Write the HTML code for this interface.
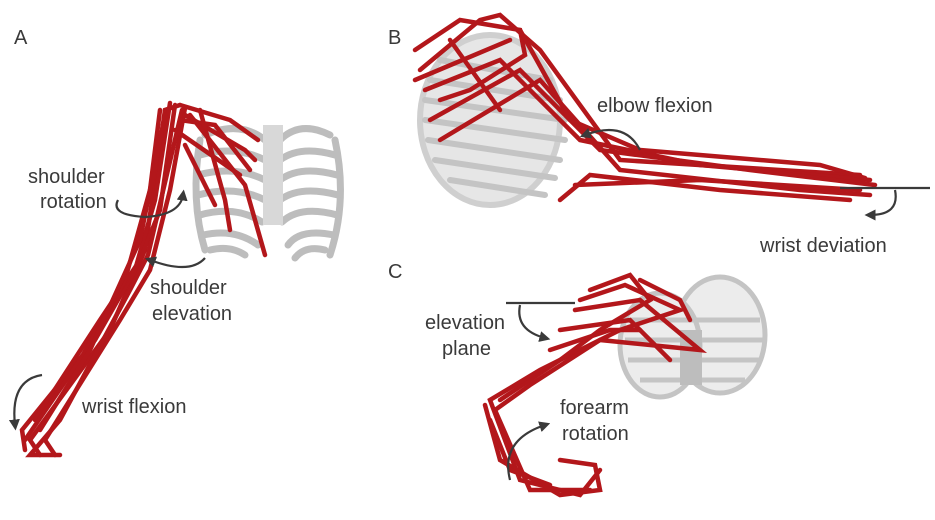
<!DOCTYPE html>
<html><head><meta charset="utf-8"><style>
html,body{margin:0;padding:0;background:#fff}
svg{display:block}
text{font-family:"Liberation Sans",sans-serif;fill:#3a3a3a;font-size:20px}
</style></head><body>
<svg width="935" height="520" viewBox="0 0 935 520" xmlns="http://www.w3.org/2000/svg">
<defs>
<marker id="ah" viewBox="0 0 10 10" refX="5" refY="5" markerWidth="5" markerHeight="5" orient="auto"><path d="M0,0 L10,5 L0,10 z" fill="#3a3a3a"/></marker>
</defs>
<text x="14" y="44">A</text>
<text x="388" y="44">B</text>
<text x="388" y="278">C</text>

<g stroke="#bdbdbd" stroke-width="7" fill="none" stroke-linecap="round">
<path d="M200,140 Q190,200 205,250"/>
<path d="M335,140 Q348,200 330,255"/>
<path d="M205,135 Q240,120 265,140"/><path d="M330,135 Q300,120 280,140"/>
<path d="M200,155 Q235,145 265,160"/><path d="M335,155 Q300,145 280,160"/>
<path d="M198,175 Q235,165 265,180"/><path d="M337,175 Q300,165 280,180"/>
<path d="M198,195 Q235,185 265,200"/><path d="M338,195 Q300,185 280,200"/>
<path d="M200,215 Q235,205 262,222"/><path d="M337,215 Q300,205 282,222"/>
<path d="M203,235 Q235,228 258,245"/><path d="M334,235 Q300,228 288,245"/>
<path d="M210,250 Q230,245 245,255"/><path d="M325,250 Q305,245 295,258"/>
</g>
<rect x="263" y="125" width="20" height="100" fill="#d8d8d8"/>
<g stroke="#b3171b" stroke-width="4.5" fill="none" stroke-linecap="round">
<path d="M180,105 L165,110 L145,250 L110,330 L30,440 L40,455"/>
<path d="M170,103 L155,200 L135,270 L95,340 L22,430 L25,450"/>
<path d="M185,108 L170,190 L150,270 L120,320 L45,440 L55,455"/>
<path d="M175,105 L160,210 L140,260 L100,320 L35,420"/>
<path d="M182,110 L148,255 L130,290 L60,420 L30,455 L60,455"/>
<path d="M160,110 L150,190 L125,280 L80,360 L25,440"/>
<path d="M165,115 L140,240 L90,350 L40,430"/>
<path d="M180,105 L230,120 L258,140"/>
<path d="M185,115 L245,150 L255,160"/>
<path d="M180,120 L215,125 L250,170"/>
<path d="M175,130 L240,175"/>
<path d="M185,145 L205,185 L215,205"/>
<path d="M200,110 L225,200 L230,230"/>
<path d="M190,115 L245,185 L265,255"/>
</g>
<g stroke="#3a3a3a" stroke-width="2.2" fill="none">
<path d="M118,200 Q110,215 145,217 Q180,215 183,195" marker-end="url(#ah)"/>
<path d="M205,258 Q190,275 150,260" marker-end="url(#ah)"/>
<path d="M42,375 Q10,380 15,425" marker-end="url(#ah)"/>
</g>
<text x="28" y="183">shoulder</text>
<text x="40" y="208">rotation</text>
<text x="150" y="294">shoulder</text>
<text x="152" y="320">elevation</text>
<text x="82" y="413">wrist flexion</text>

<g stroke="#c4c4c4" stroke-width="6" fill="none" stroke-linecap="round">
<ellipse cx="490" cy="120" rx="70" ry="85" fill="#e6e6e6" stroke="#cfcfcf"/>
<path d="M430,80 L560,100"/><path d="M425,100 L565,120"/><path d="M425,120 L565,140"/>
<path d="M428,140 L560,160"/><path d="M435,160 L555,178"/><path d="M450,180 L545,195"/>
<path d="M440,60 L550,80"/>
</g>
<g stroke="#b3171b" stroke-width="4.5" fill="none" stroke-linecap="round">
<path d="M415,50 L460,20 L520,30 L525,55 L470,90 L440,100"/>
<path d="M420,70 L480,20 L500,15 L540,50 L620,160 L860,175"/>
<path d="M425,90 L500,60 L580,140 L700,165 L870,180"/>
<path d="M430,120 L520,70 L600,150 L750,170 L875,185"/>
<path d="M440,140 L540,80 L620,170 L800,190 L870,195"/>
<path d="M520,30 L570,120 L640,150 L820,165 L865,178"/>
<path d="M560,200 L590,175 L720,190 L850,200"/>
<path d="M575,185 L700,180 L860,190"/>
<path d="M415,80 L510,40"/><path d="M450,40 L500,110"/>
</g>
<g stroke="#3a3a3a" stroke-width="2.2" fill="none">
<path d="M640,150 Q625,120 585,135" marker-end="url(#ah)"/>
<path d="M840,188 L930,188"/>
<path d="M895,190 Q900,215 870,215" marker-end="url(#ah)"/>
</g>
<text x="597" y="112">elbow flexion</text>
<text x="760" y="252">wrist deviation</text>

<g stroke="#c4c4c4" stroke-width="5" fill="none">
<ellipse cx="720" cy="335" rx="45" ry="58" fill="#ececec"/>
<ellipse cx="660" cy="345" rx="40" ry="52" fill="#ececec"/>
<path d="M630,320 L760,320"/><path d="M625,340 L765,340"/><path d="M628,360 L760,360"/><path d="M640,380 L745,380"/>
</g>
<rect x="680" y="330" width="22" height="55" fill="#bdbdbd"/>
<g stroke="#b3171b" stroke-width="4.5" fill="none" stroke-linecap="round">
<path d="M590,290 L630,275 L650,300 L600,330 L560,360 L500,400"/>
<path d="M580,300 L625,285 L680,310 L620,330 L540,370 L490,400 L520,480 L580,495 L600,470"/>
<path d="M575,310 L640,300 L700,350 L600,340 L530,385 L495,410 L530,490 L590,490"/>
<path d="M560,330 L630,320 L670,360"/>
<path d="M550,350 L610,330 L640,330"/>
<path d="M485,405 L500,460 L560,495 L600,490 L595,465 L560,460"/>
<path d="M490,420 L510,470 L550,485"/>
<path d="M640,280 L680,300 L690,320"/>
</g>
<g stroke="#3a3a3a" stroke-width="2.2" fill="none">
<path d="M506,303 L575,303"/>
<path d="M520,305 Q515,330 545,338" marker-end="url(#ah)"/>
<path d="M510,480 Q500,440 545,425" marker-end="url(#ah)"/>
</g>
<text x="425" y="329">elevation</text>
<text x="442" y="355">plane</text>
<text x="560" y="414">forearm</text>
<text x="562" y="440">rotation</text>
</svg>
</body></html>
